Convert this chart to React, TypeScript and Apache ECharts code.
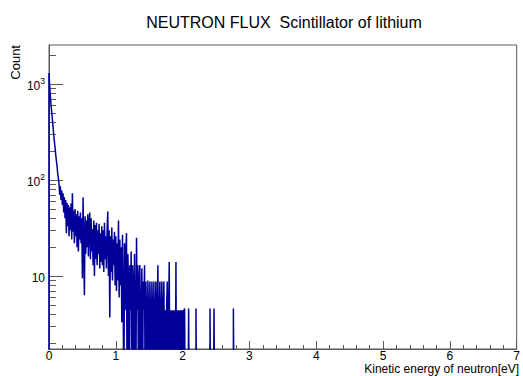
import React, { useEffect, useRef } from 'react';
import * as echarts from 'echarts';

const TITLE = 'NEUTRON FLUX  Scintillator of lithium';
const X_TITLE = 'Kinetic energy of neutron[eV]';
const Y_TITLE = 'Count';

const BIN_WIDTH = 0.01; // eV per bin
const X_MIN = 0;
const X_MAX = 7;
const Y_MIN = 1.74;
const Y_MAX = 2550;
const Y_DECADES = [1, 10, 100, 1000];
const Y_SUBSTEPS = [1, 2, 3, 4, 5, 6, 7, 8, 9];
const EMPTY_BIN_PLOT = 0.3; // below the axis minimum, clipped like ROOT does

// bin contents, 0.00 - 0.99 eV (10 bins per row = 0.1 eV)
const COUNTS_LOW = [
  1300, 950, 760, 610, 520, 430, 360, 300, 255, 220,
  185, 160, 140, 118, 104, 92, 70, 86, 62, 78,
  55, 73, 46, 66, 40, 62, 28, 58, 33, 55,
  26, 52, 30, 57, 24, 73, 29, 48, 22, 50,
  26, 44, 20, 48, 18, 42, 24, 46, 22, 40,
  9.5, 66, 19, 6.3, 42, 17, 38, 20, 44, 16,
  36, 46, 15, 40, 18, 31, 13, 38, 10, 34,
  15, 36, 13, 30, 17, 35, 12, 28, 14, 33,
  13, 30, 11, 36, 15, 26, 12, 31, 47, 10,
  30, 3.7, 26, 11, 32, 9, 24, 13, 29, 8,
];

// bin contents, 1.00 - 2.79 eV
const COUNTS_HIGH = [
  26, 7, 22, 9, 38, 6, 24, 8, 20, 3.3,
  27, 6, 0, 22, 4.4, 18, 28, 0, 17, 8.8,
  0, 13, 4.4, 18, 0, 13, 8.8, 0, 17, 4.4,
  0, 25, 4.4, 13, 0, 8.8, 13, 0, 4.4, 12,
  0, 8.8, 4.4, 13, 0, 8.8, 4.4, 0, 9, 4.4,
  0, 8.8, 4.4, 0, 8.8, 4.4, 0, 8.8, 0, 4.4,
  8.8, 0, 4.4, 13, 0, 4.4, 8.8, 0, 4.4, 8.8,
  0, 4.4, 8.8, 0, 4.4, 0, 4.4, 8.8, 0, 4.4,
  14, 0, 4.4, 0, 4.4, 0, 4.4, 0, 4.4, 0,
  14, 0, 4.4, 0, 4.4, 0, 4.4, 0, 4.4, 0,
  4.4, 0, 4.4, 4.6, 0, 0, 0, 0, 0, 4.6,
  0, 0, 0, 0, 0, 0, 0, 0, 0, 0,
  4.6, 0, 0, 0, 0, 0, 0, 0, 0, 0,
  0, 0, 0, 0, 0, 0, 0, 0, 0, 0,
  0, 4.6, 0, 0, 0, 0, 0, 4.6, 0, 0,
  0, 0, 0, 0, 0, 0, 0, 0, 0, 0,
  0, 0, 0, 0, 0, 0, 0, 0, 0, 0,
  0, 0, 0, 0, 0, 0, 4.6, 0, 0, 0,
];

const FONT = '"Liberation Sans", Arial, Helvetica, sans-serif';
const AXIS_COLOR = '#5a5a5a';
const LINE_COLOR = '#000099';

export default function App() {
  const ref = useRef<HTMLDivElement | null>(null);

  useEffect(() => {
    if (!ref.current) return;
    const chart = echarts.init(ref.current, undefined, { renderer: 'svg' });

    const counts = [...COUNTS_LOW, ...COUNTS_HIGH];
    const data: number[][] = [[0, EMPTY_BIN_PLOT]];
    counts.forEach((c, i) => data.push([i * BIN_WIDTH, c > 0 ? c : EMPTY_BIN_PLOT]));
    data.push([counts.length * BIN_WIDTH, EMPTY_BIN_PLOT]);

    const yLabel = (v: number) => {
      const e = Math.round(Math.log10(v));
      if (Math.abs(Math.log10(v) - e) > 1e-6) return '';
      const d = Math.pow(10, e);
      if (!Y_DECADES.includes(d) || d < Y_MIN) return '';
      if (e === 1) return '{b|10}';
      return '{b|10}{s|' + e + '}';
    };

    chart.setOption({
      animation: false,
      backgroundColor: '#ffffff',
      textStyle: { fontFamily: FONT },
      grid: {
        left: 49, right: 4, top: 45, bottom: 27,
        show: true, borderColor: AXIS_COLOR, borderWidth: 1,
        backgroundColor: 'transparent', containLabel: false,
      },
      xAxis: {
        type: 'value', min: X_MIN, max: X_MAX, interval: 1,
        axisLine: { show: true, onZero: false, lineStyle: { color: AXIS_COLOR, width: 1 } },
        axisTick: { show: true, inside: true, length: 8, lineStyle: { color: AXIS_COLOR } },
        minorTick: { show: true, splitNumber: 5, length: 4, lineStyle: { color: AXIS_COLOR } },
        axisLabel: { color: '#000', fontSize: 12, lineHeight: 12, fontFamily: FONT, margin: 0.5 },
        splitLine: { show: false },
        minorSplitLine: { show: false },
      },
      yAxis: {
        type: 'log', logBase: 10, min: Y_MIN, max: Y_MAX,
        axisLine: { show: true, lineStyle: { color: AXIS_COLOR, width: 1 } },
        axisTick: { show: false },
        splitLine: { show: false },
        axisLabel: {
          margin: 4, color: '#000', fontFamily: FONT,
          formatter: yLabel,
          rich: {
            b: { fontSize: 12, fontFamily: FONT, color: '#000', lineHeight: 15, verticalAlign: 'bottom' },
            s: { fontSize: 8.5, fontFamily: FONT, color: '#000', lineHeight: 9, verticalAlign: 'top' },
          },
        },
      },
      series: [{
        type: 'line', step: 'end', data,
        symbol: 'none', showSymbol: false, clip: true, silent: true,
        lineStyle: { color: LINE_COLOR, width: 1.5 },
      }],
    });

    const x0 = chart.convertToPixel({ xAxisIndex: 0 }, X_MIN) as number;
    const ticks: any[] = [];
    Y_DECADES.forEach((d) => {
      Y_SUBSTEPS.forEach((m) => {
        const v = m * d;
        if (v <= Y_MIN || v >= Y_MAX) return;
        const y = Math.round(chart.convertToPixel({ yAxisIndex: 0 }, v) as number) + 0.5;
        const len = m === 1 ? 14 : 7;
        ticks.push({
          type: 'line', silent: true,
          shape: { x1: x0, y1: y, x2: x0 + len, y2: y },
          style: { stroke: AXIS_COLOR, lineWidth: 1 },
        });
      });
    });

    chart.setOption({
      graphic: [
        ...ticks,
        {
          type: 'text', x: 284, y: 22, silent: true,
          style: { text: TITLE, fontSize: 16, fontFamily: FONT, fill: '#000', align: 'center', verticalAlign: 'middle' },
        },
        {
          type: 'text', x: 519, y: 369.3, silent: true,
          style: { text: X_TITLE, fontSize: 12, lineHeight: 12, fontFamily: FONT, fill: '#000', align: 'right', verticalAlign: 'middle' },
        },
        {
          type: 'text', x: 15, y: 45, rotation: Math.PI / 2, silent: true,
          style: { text: Y_TITLE, fontSize: 13, fontFamily: FONT, fill: '#000', align: 'right', verticalAlign: 'middle' },
        },
      ],
    });

    return () => chart.dispose();
  }, []);

  return (
    <div
      ref={ref}
      style={{ position: 'fixed', left: 0, top: 0, width: 523, height: 376, background: '#fff' }}
    />
  );
}
